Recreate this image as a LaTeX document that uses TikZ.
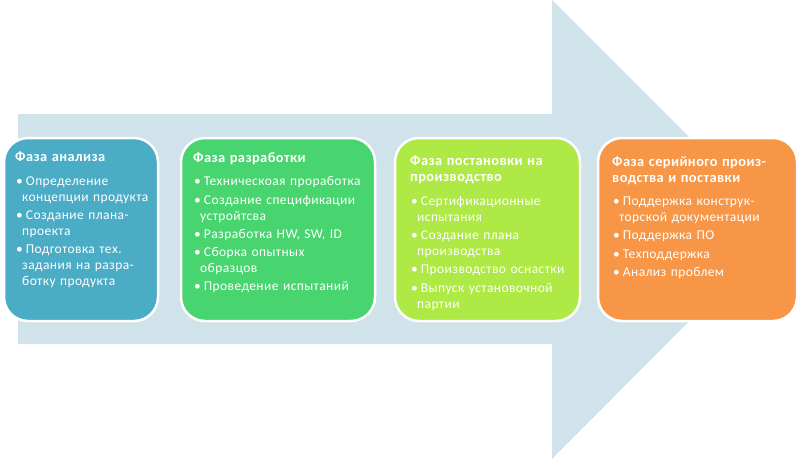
\documentclass[tikz,border=0pt]{standalone}
\usepackage{fontspec}
\setmainfont{Carlito}[LetterSpace=3]
\definecolor{arrowc}{HTML}{D0E3EA}
\definecolor{cA}{HTML}{4BACC6}
\definecolor{cB}{HTML}{48D46F}
\definecolor{cC}{HTML}{AEE945}
\definecolor{cD}{HTML}{F79646}
\newcommand{\phtitle}[1]{{\bfseries\fontsize{14.4}{16}\selectfont #1\par}\vspace{5.5pt}}
\newcommand{\bitem}[1]{\par\vspace{2.5pt}\hangindent=7pt\hangafter=1\noindent\hspace*{1pt}•\hspace{3pt}#1\par}
\tikzset{
  phasebox/.style={draw=white, line width=2.5pt, rounded corners=24pt, inner sep=0pt, outer sep=0pt},
  phasetext/.style={anchor=north west, inner sep=0pt, text width=#1, align=left, text=white,
    font=\fontsize{13.5}{15.8}\selectfont},
}
\begin{document}
\begin{tikzpicture}[x=1pt,y=-1pt]
\useasboundingbox (0,0) rectangle (800,460);
\fill[arrowc] (18,114) -- (552,114) -- (552,0) -- (781,229) -- (552,459) -- (552,344) -- (18,344) -- cycle;

\node[phasebox, fill=cA, minimum width=154, minimum height=183] (b1) at (81,229.5) {};
\node[phasebox, fill=cB, minimum width=194, minimum height=183] (b2) at (278,229.5) {};
\node[phasebox, fill=cC, minimum width=185, minimum height=183] (b3) at (487.5,229.5) {};
\node[phasebox, fill=cD, minimum width=199, minimum height=183] (b4) at (697.5,229.5) {};

\node[phasetext=150pt] (t1) at ([shift={(11,14)}]b1.north west) {%
\phtitle{Фаза анализа}%
\bitem{Определение\newline концепции продукта}%
\bitem{Создание плана-\newline проекта}%
\bitem{Подготовка тех.\newline задания на разра-\newline ботку продукта}};

\node[phasetext=190pt] (t2) at ([shift={(12,14)}]b2.north west) {%
\phtitle{Фаза разработки}%
\bitem{Техническоая проработка}%
\bitem{Создание спецификации\newline устройтсва}%
\bitem{Разработка HW, SW, ID}%
\bitem{Сборка опытных\newline образцов}%
\bitem{Проведение испытаний}};

\node[phasetext=180pt] (t3) at ([shift={(15,18)}]b3.north west) {%
\phtitle{Фаза постановки на\\производство}%
\bitem{Сертификационные\newline испытания}%
\bitem{Создание плана\newline производства}%
\bitem{Производство оснастки}%
\bitem{Выпуск установочной\newline партии}};

\node[phasetext=190pt] (t4) at ([shift={(14,18)}]b4.north west) {%
\phtitle{Фаза серийного произ-\\водства и поставки}%
\bitem{Поддержка конструк-\newline торской документации}%
\bitem{Поддержка ПО}%
\bitem{Техподдержка}%
\bitem{Анализ проблем}};
\end{tikzpicture}
\end{document}
